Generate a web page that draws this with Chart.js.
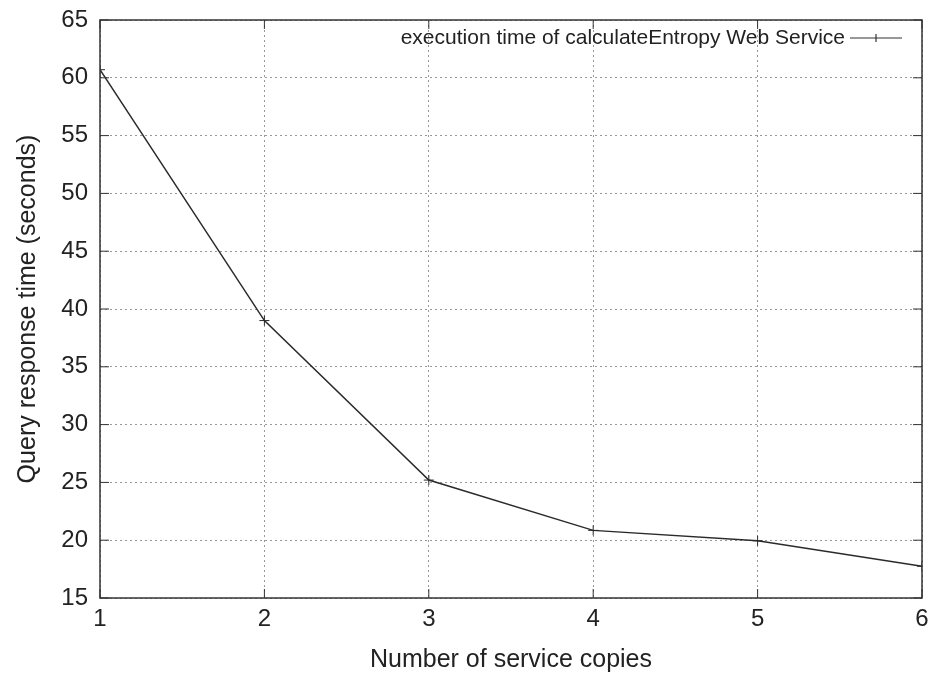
<!DOCTYPE html>
<html>
<head>
<meta charset="utf-8">
<script src="https://cdn.jsdelivr.net/npm/chart.js@4/dist/chart.umd.min.js"></script>
<style>
    html, body { margin: 0; padding: 0; background: #fff; }
    #wrap { width: 934px; height: 679px; }
</style>
</head>
<body>
<div id="wrap"><canvas id="chart" width="934" height="679"></canvas></div>
<script>
// Values
const copies = [1, 2, 3, 4, 5, 6];
const responseTime = [60.7, 39.0, 25.2, 20.85, 19.95, 17.75];
const seriesLabel = 'execution time of calculateEntropy Web Service';
const xTitle = 'Number of service copies';
const yTitle = 'Query response time (seconds)';

Chart.defaults.font.family = '"Liberation Sans", Arial, Helvetica, sans-serif';
Chart.defaults.color = '#222';

// gnuplot-like frame, inward ticks and key
const framePlugin = {
    id: 'frame',
    afterDraw(chart) {
        const { ctx, chartArea: a, scales: { x, y } } = chart;
        const len = 9;
        ctx.save();
        ctx.strokeStyle = '#333';
        ctx.lineWidth = 1.5;
        ctx.strokeRect(a.left, a.top, a.right - a.left, a.bottom - a.top);
        ctx.lineWidth = 1;
        ctx.beginPath();
        x.ticks.forEach(t => {
            const px = x.getPixelForValue(t.value);
            ctx.moveTo(px, a.bottom); ctx.lineTo(px, a.bottom - len);
            ctx.moveTo(px, a.top); ctx.lineTo(px, a.top + len);
        });
        y.ticks.forEach(t => {
            const py = y.getPixelForValue(t.value);
            ctx.moveTo(a.left, py); ctx.lineTo(a.left + len, py);
            ctx.moveTo(a.right, py); ctx.lineTo(a.right - len, py);
        });
        ctx.stroke();

        // key, top right inside the box
        const ky = a.top + 18;
        const lineEnd = a.right - 20;
        const lineStart = lineEnd - 52;
        ctx.font = '21px "Liberation Sans", Arial, sans-serif';
        ctx.fillStyle = '#222';
        ctx.textAlign = 'right';
        ctx.textBaseline = 'middle';
        ctx.fillText(chart.data.datasets[0].label, lineStart - 5, ky);
        ctx.strokeStyle = '#333';
        ctx.lineWidth = 1.2;
        ctx.beginPath();
        ctx.moveTo(lineStart, ky); ctx.lineTo(lineEnd, ky);
        const mid = (lineStart + lineEnd) / 2;
        ctx.moveTo(mid, ky - 4); ctx.lineTo(mid, ky + 4);
        ctx.stroke();
        ctx.restore();
    }
};

new Chart(document.getElementById('chart').getContext('2d'), {
    type: 'line',
    data: {
        datasets: [{
            label: seriesLabel,
            data: copies.map((c, i) => ({ x: c, y: responseTime[i] })),
            borderColor: '#2a2a2a',
            borderWidth: 1.5,
            pointStyle: 'cross',
            pointRadius: 5,
            pointBorderWidth: 1,
            pointBorderColor: '#2a2a2a',
            fill: false,
            tension: 0
        }]
    },
    options: {
        responsive: false,
        animation: false,
        layout: { padding: { left: 0, right: 12, top: 20, bottom: 0 } },
        plugins: { legend: { display: false }, tooltip: { enabled: false } },
        scales: {
            x: {
                type: 'linear',
                min: 1,
                max: 6,
                afterFit: s => { s.height = 81; s.paddingLeft = 0; s.paddingRight = 0; },
                ticks: { stepSize: 1, font: { size: 24 }, padding: 7, color: '#222' },
                grid: { color: '#999', lineWidth: 1, drawTicks: false },
                border: { display: false, dash: [2, 3] },
                title: { display: true, text: xTitle, font: { size: 25 }, color: '#222', padding: { top: 0, bottom: 4 } }
            },
            y: {
                min: 15,
                max: 65,
                afterFit: s => { s.width = 100; s.paddingTop = 0; s.paddingBottom = 0; },
                ticks: { stepSize: 5, font: { size: 24 }, padding: 12, color: '#222' },
                grid: { color: '#999', lineWidth: 1, drawTicks: false },
                border: { display: false, dash: [2, 3] },
                title: { display: true, text: yTitle, font: { size: 25 }, color: '#222', padding: { top: 13, bottom: 0 } }
            }
        }
    },
    plugins: [framePlugin]
});
</script>
</body>
</html>
